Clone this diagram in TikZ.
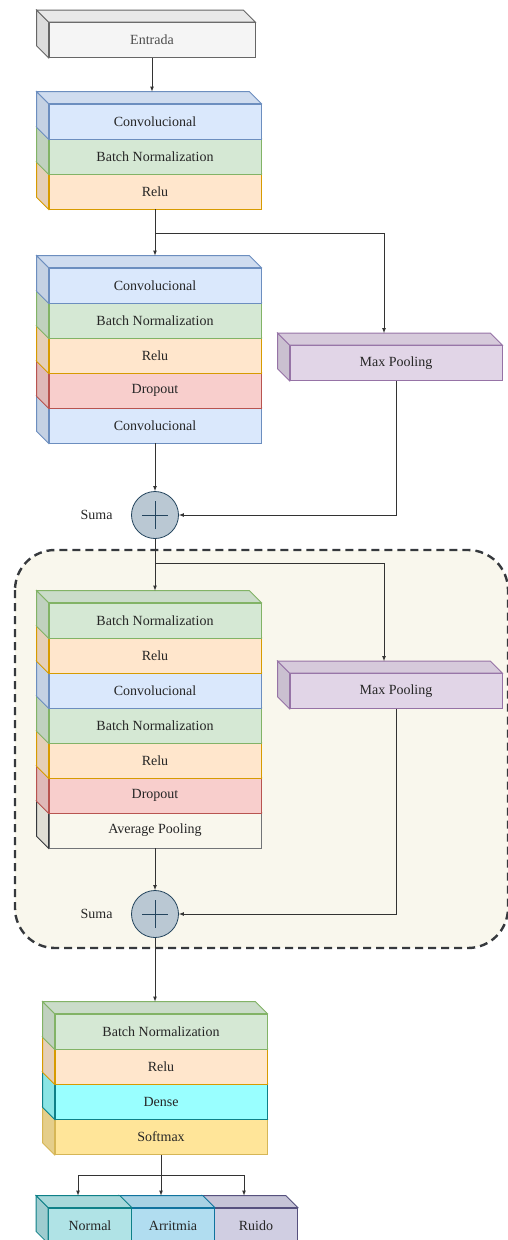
\documentclass[tikz,border=0pt]{standalone}
\usepackage{fontspec}
\setmainfont{Liberation Serif}
\newfontfamily\letra{Liberation Serif}
\usetikzlibrary{positioning}
\definecolor{grisF}{HTML}{F5F5F5}\definecolor{grisL}{HTML}{666666}
\definecolor{azulF}{HTML}{DAE8FC}\definecolor{azulL}{HTML}{6C8EBF}
\definecolor{verdeF}{HTML}{D5E8D4}\definecolor{verdeL}{HTML}{82B366}
\definecolor{naranjaF}{HTML}{FFE6CC}\definecolor{naranjaL}{HTML}{D79B00}
\definecolor{rojoF}{HTML}{F8CECC}\definecolor{rojoL}{HTML}{B85450}
\definecolor{moradoF}{HTML}{E1D5E7}\definecolor{moradoL}{HTML}{9673A6}
\definecolor{beigeF}{HTML}{F9F7ED}\definecolor{beigeL}{HTML}{36393D}
\definecolor{cianF}{HTML}{99FFFF}\definecolor{cianL}{HTML}{0E8088}
\definecolor{amarilloF}{HTML}{FFE599}\definecolor{amarilloL}{HTML}{D6B656}
\definecolor{tealF}{HTML}{B0E3E6}\definecolor{tealL}{HTML}{0E8088}
\definecolor{celesteF}{HTML}{B1DDF0}\definecolor{celesteL}{HTML}{10739E}
\definecolor{lilaF}{HTML}{D0CEE2}\definecolor{lilaL}{HTML}{56517E}
\definecolor{sumaF}{HTML}{BAC8D3}\definecolor{sumaL}{HTML}{23445D}
\begin{document}
\begin{tikzpicture}[x=1pt,y=-1pt,
    capa/.style={draw, line width=0.8pt, minimum width=212pt, minimum height=35pt, inner sep=0pt, font=\letra\fontsize{14}{16}\selectfont, text=black!85},
    gris/.style={fill=grisF, draw=grisL, text=black!70},
    azul/.style={fill=azulF, draw=azulL},
    verde/.style={fill=verdeF, draw=verdeL},
    naranja/.style={fill=naranjaF, draw=naranjaL},
    rojo/.style={fill=rojoF, draw=rojoL},
    morado/.style={fill=moradoF, draw=moradoL},
    beige/.style={fill=beigeF, draw=beigeL!70},
    cian/.style={fill=cianF, draw=cianL},
    amarillo/.style={fill=amarilloF, draw=amarilloL},
    teal/.style={fill=tealF, draw=tealL},
    celeste/.style={fill=celesteF, draw=celesteL},
    lila/.style={fill=lilaF, draw=lilaL},
    suma/.style={circle, draw=sumaL, fill=sumaF, line width=0.8pt, minimum size=47pt, inner sep=0pt},
    flecha/.style={-latex, line width=0.7pt, draw=black!80},
    zona/.style={draw=beigeL, fill=beigeF, dash pattern=on 8pt off 5pt, line width=2.4pt, rounded corners=40pt}]
    \useasboundingbox (0,0) rectangle (507,1240);
    % caras superior e izquierda de cada cubo
    \def\caras#1#2{%
      \filldraw[draw=#2L, line width=0.8pt, fill=#2F!90!black] (#1.north west) -- ++(-12,-12) -- ([xshift=-12pt,yshift=12pt]#1.south west) -- (#1.south west) -- cycle;
      \filldraw[draw=#2L, line width=0.8pt, fill=#2F!95!black] (#1.north west) -- ++(-12,-12) -- ([xshift=-12pt,yshift=12pt]#1.north east) -- (#1.north east) -- cycle;}
    % zona punteada
    \draw[zona] (15,550) rectangle (508,948);
    % entrada
    \node[capa, gris, minimum width=206pt] (entrada) at (152,40) {Entrada}; \caras{entrada}{gris}
    % bloque 1
    \node[capa, naranja] (relu1) at (155,191.5) {Relu}; \caras{relu1}{naranja}
    \node[capa, verde] (bn1) at (155,156.5) {Batch Normalization}; \caras{bn1}{verde}
    \node[capa, azul] (conv1) at (155,121.5) {Convolucional}; \caras{conv1}{azul}
    % bloque 2
    \node[capa, azul] (conv3) at (155,425.5) {Convolucional}; \caras{conv3}{azul}
    \node[capa, rojo] (drop2) at (155,390.5) {Dropout}; \caras{drop2}{rojo}
    \node[capa, naranja] (relu2) at (155,355.5) {Relu}; \caras{relu2}{naranja}
    \node[capa, verde] (bn2) at (155,320.5) {Batch Normalization}; \caras{bn2}{verde}
    \node[capa, azul] (conv2) at (155,285.5) {Convolucional}; \caras{conv2}{azul}
    \node[capa, morado] (maxp1) at (396,363) {Max Pooling}; \caras{maxp1}{morado}
    \node[suma] (suma1) at (155,515) {};
    \draw[sumaL, line width=0.8pt] ([xshift=-13pt]suma1.center) -- ([xshift=13pt]suma1.center);
    \draw[sumaL, line width=0.8pt] ([yshift=-14pt]suma1.center) -- ([yshift=14pt]suma1.center);
    \node[font=\letra\fontsize{14}{16}\selectfont, text=black!85, left=15pt of suma1] (tsuma1) {Suma};
    % bloque 3
    \node[capa, beige] (avgp) at (155,830.5) {Average Pooling}; \caras{avgp}{beige}
    \node[capa, rojo] (drop4) at (155,795.5) {Dropout}; \caras{drop4}{rojo}
    \node[capa, naranja] (relu4) at (155,760.5) {Relu}; \caras{relu4}{naranja}
    \node[capa, verde] (bn4) at (155,725.5) {Batch Normalization}; \caras{bn4}{verde}
    \node[capa, azul] (conv4) at (155,690.5) {Convolucional}; \caras{conv4}{azul}
    \node[capa, naranja] (relu3) at (155,655.5) {Relu}; \caras{relu3}{naranja}
    \node[capa, verde] (bn3) at (155,620.5) {Batch Normalization}; \caras{bn3}{verde}
    \node[capa, morado] (maxp2) at (396,691) {Max Pooling}; \caras{maxp2}{morado}
    \node[suma] (suma2) at (155,914) {};
    \draw[sumaL, line width=0.8pt] ([xshift=-13pt]suma2.center) -- ([xshift=13pt]suma2.center);
    \draw[sumaL, line width=0.8pt] ([yshift=-14pt]suma2.center) -- ([yshift=14pt]suma2.center);
    \node[font=\letra\fontsize{14}{16}\selectfont, text=black!85, left=15pt of suma2] (tsuma2) {Suma};
    % bloque 4
    \node[capa, amarillo] (softmax) at (161,1137) {Softmax}; \caras{softmax}{amarillo}
    \node[capa, cian] (dense) at (161,1101.5) {Dense}; \caras{dense}{cian}
    \node[capa, naranja] (relu5) at (161,1066.5) {Relu}; \caras{relu5}{naranja}
    \node[capa, verde] (bn5) at (161,1031.5) {Batch Normalization}; \caras{bn5}{verde}
    % salidas
    \node[capa, lila, minimum width=83pt] (ruido) at (256,1225.5) {Ruido}; \caras{ruido}{lila}
    \node[capa, celeste, minimum width=83pt] (arritmia) at (173,1225.5) {Arritmia}; \caras{arritmia}{celeste}
    \node[capa, teal, minimum width=83pt] (normal) at (90,1225.5) {Normal}; \caras{normal}{teal}
    % puntos de llegada (cara superior)
    \coordinate (t1) at ([yshift=12pt]conv1.north);
    \coordinate (t2) at ([yshift=12pt]conv2.north);
    \coordinate (t3) at ([yshift=12pt]bn3.north);
    \coordinate (t4) at ([yshift=12pt]bn5.north);
    \coordinate (m1) at ([xshift=-12pt,yshift=12pt]maxp1.north);
    \coordinate (m2) at ([xshift=-12pt,yshift=12pt]maxp2.north);
    \coordinate (o1) at ([xshift=-12pt,yshift=12pt]normal.north);
    \coordinate (o2) at ([xshift=-12pt,yshift=12pt]arritmia.north);
    \coordinate (o3) at ([xshift=-12pt,yshift=12pt]ruido.north);
    \coordinate (b1) at (155,233);
    \coordinate (b2) at (155,563);
    \coordinate (b3) at (161,1175);
    % conexiones
    \draw[flecha] (entrada.south) -- (entrada.south |- t1);
    \draw[flecha] (relu1.south) -- (relu1.south |- t2);
    \draw[flecha] (b1) -| (m1);
    \draw[flecha] (conv3.south) -- (suma1.north);
    \draw[flecha] (maxp1.south) |- (suma1.east);
    \draw[flecha] (suma1.south) -- (suma1.south |- t3);
    \draw[flecha] (b2) -| (m2);
    \draw[flecha] (avgp.south) -- (suma2.north);
    \draw[flecha] (maxp2.south) |- (suma2.east);
    \draw[flecha] (suma2.south) -- (suma2.south |- t4);
    \draw[flecha] (softmax.south) -- (o2);
    \draw[flecha] (b3) -| (o1);
    \draw[flecha] (b3) -| (o3);
\end{tikzpicture}
\end{document}
